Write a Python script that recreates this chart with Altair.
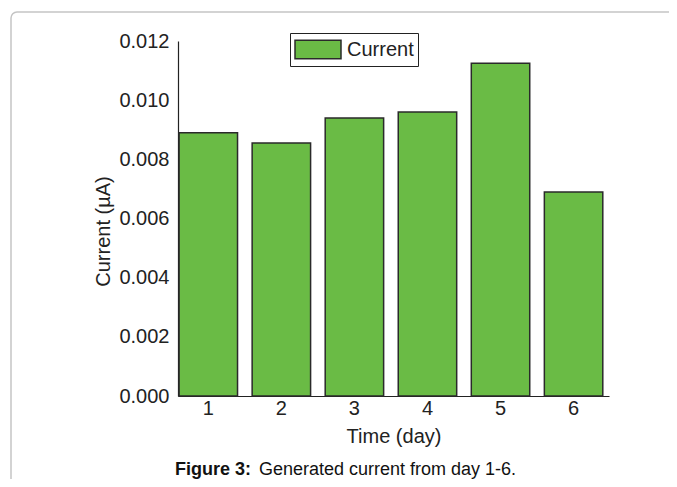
import altair as alt
import pandas as pd

# ---- data ----
days = ["1", "2", "3", "4", "5", "6"]
current = [0.0089, 0.00855, 0.0094, 0.0096, 0.01125, 0.0069]
y_ticks = [0.000, 0.002, 0.004, 0.006, 0.008, 0.010, 0.012]
series_name = "Current"
caption_bold = ["Figure 3:"]
caption_rest = ["Generated current from day 1-6."]

FONT = "Liberation Sans"
GREEN = "#6abb45"
FRAME = "#c4c4c4"

df = pd.DataFrame({"day": days, "current": current, "series": [series_name] * len(days)})

W, H = 431, 355

bars = alt.Chart(df).mark_bar(stroke="#2a2a2a", strokeWidth=1.5).encode(
    x=alt.X(
        "day:N", sort=days, title="Time (day)",
        scale=alt.Scale(paddingInner=0.2, paddingOuter=0.05, align=0.15),
        axis=alt.Axis(labelAngle=0, ticks=False, labelPadding=2, labelBaseline="top",
                      titleY=40, titleBaseline="middle"),
    ),
    y=alt.Y(
        "current:Q", title="Current (µA)",
        scale=alt.Scale(domain=[0, 0.012], nice=False, zero=True),
        axis=alt.Axis(values=y_ticks, format=".3f", grid=False, ticks=False, labelPadding=9,
                      titleX=-75, titleY=190, titleBaseline="middle", titleAlign="center"),
    ),
    color=alt.Color(
        "series:N",
        scale=alt.Scale(domain=[series_name], range=[GREEN]),
        legend=alt.Legend(
            title=None, orient="none", legendX=112, legendY=-8,
            padding=4, strokeColor="#222222",
            symbolType="M-1,-0.8H3V0.8H-1Z", symbolSize=529,
            symbolStrokeColor="#2a2a2a", symbolStrokeWidth=1.5, symbolFillColor=GREEN,
            symbolOpacity=1,
            labelFontSize=20, labelFont=FONT, labelColor="#222222", labelOffset=28,
        ),
    ),
)

one = alt.Data(values=[{"k": 1}])

# decorative page frame: top and left edges with a rounded corner
frame_top = alt.Chart(one).mark_rule(stroke=FRAME, strokeWidth=1.5).encode(
    x=alt.value(-161), x2=alt.value(520), y=alt.value(-29)
)
frame_left = alt.Chart(one).mark_rule(stroke=FRAME, strokeWidth=1.5).encode(
    x=alt.value(-167), y=alt.value(-23), y2=alt.value(520)
)
frame_corner = alt.Chart(one).mark_arc(
    radius=6, radius2=6, theta=4.712389, theta2=6.283185, stroke=FRAME, strokeWidth=1.5, fillOpacity=0
).encode(x=alt.value(-161), y=alt.value(-23))

cap1 = alt.Chart(pd.DataFrame({"t": caption_bold})).mark_text(
    font=FONT, fontSize=18, fontWeight="bold", align="left", baseline="alphabetic", color="#111111"
).encode(text="t:N", x=alt.value(-3), y=alt.value(434))

cap2 = alt.Chart(pd.DataFrame({"t": caption_rest})).mark_text(
    font=FONT, fontSize=18, align="left", baseline="alphabetic", color="#111111"
).encode(text="t:N", x=alt.value(81), y=alt.value(434))

chart = alt.layer(frame_top, frame_left, frame_corner, bars, cap1, cap2).properties(
    width=W, height=H,
    autosize=alt.AutoSizeParams(type="none"),
    padding={"left": 170, "top": 33, "right": 60, "bottom": 83},
).configure_view(stroke=None).configure_axis(
    labelFont=FONT, labelFontSize=20, labelColor="#222222",
    titleFont=FONT, titleFontSize=20, titleColor="#222222", titleFontWeight="normal",
    domainColor="#222222", domainWidth=1.2,
)

chart.save("out.html", embed_options={"renderer": "svg", "actions": False})
